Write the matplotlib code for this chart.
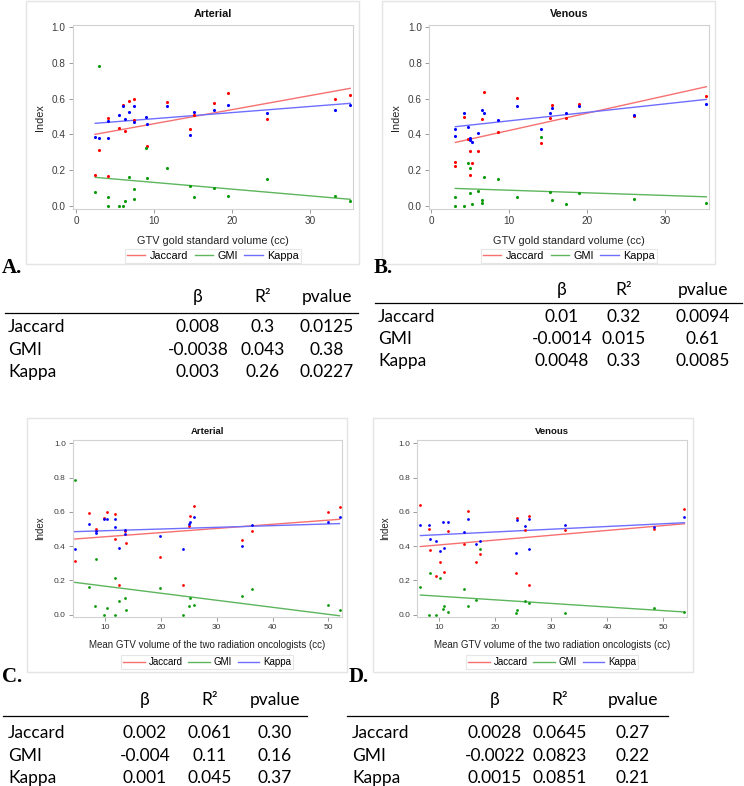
import matplotlib
matplotlib.use("Agg")
import matplotlib.pyplot as plt
from matplotlib.lines import Line2D
from matplotlib.patches import Rectangle

# ---------------- data ----------------
series_names = ["Jaccard", "GMI", "Kappa"]

# Panel A: Arterial vs GTV gold standard volume
a_jac_x = [2.43, 2.98, 4.13, 4.05, 5.46, 5.97, 6.27, 6.78, 7.37, 7.37, 9.08, 11.68, 14.58, 15.09, 17.69, 19.4, 24.47, 33.12, 35.08]
a_jac_y = [0.172, 0.312, 0.168, 0.493, 0.437, 0.563, 0.419, 0.589, 0.598, 0.482, 0.335, 0.583, 0.432, 0.510, 0.574, 0.634, 0.488, 0.596, 0.622]
a_gmi_x = [2.47, 2.94, 4.05, 4.13, 5.46, 5.97, 6.27, 6.78, 7.37, 7.37, 8.99, 9.08, 11.68, 14.58, 15.09, 17.69, 19.4, 24.47, 33.12, 35.08]
a_gmi_y = [0.075, 0.783, 0.049, 0.0, 0.0, 0.0, 0.024, 0.159, 0.092, 0.037, 0.323, 0.153, 0.213, 0.108, 0.049, 0.097, 0.054, 0.148, 0.052, 0.024]
a_kap_x = [2.47, 2.98, 4.05, 4.13, 5.46, 5.97, 6.27, 6.78, 7.37, 7.37, 8.99, 9.08, 11.68, 14.58, 15.09, 17.69, 19.4, 24.47, 33.12, 35.08]
a_kap_y = [0.387, 0.378, 0.477, 0.378, 0.507, 0.557, 0.488, 0.527, 0.557, 0.469, 0.497, 0.456, 0.557, 0.396, 0.525, 0.536, 0.566, 0.518, 0.536, 0.566]
a_fit_jac = [0.400, 0.658]
a_fit_gmi = [0.159, 0.036]
a_fit_kap = [0.462, 0.574]

# Panel B: Venous vs GTV gold standard volume
b_jac_x = [3.08, 3.08, 4.23, 4.70, 4.91, 4.91, 5.21, 5.98, 6.54, 6.79, 8.59, 10.98, 14.02, 15.17, 15.51, 17.22, 18.93, 25.94, 35.26]
b_jac_y = [0.243, 0.224, 0.499, 0.372, 0.308, 0.174, 0.239, 0.305, 0.484, 0.639, 0.413, 0.602, 0.353, 0.493, 0.564, 0.490, 0.572, 0.503, 0.613]
b_gmi_x = [3.08, 3.08, 4.23, 4.70, 4.91, 4.91, 5.21, 5.98, 6.54, 6.54, 6.79, 8.59, 10.98, 14.02, 15.17, 15.51, 17.22, 18.93, 25.94, 35.26]
b_gmi_y = [0.049, 0.0, 0.0, 0.239, 0.069, 0.213, 0.009, 0.084, 0.030, 0.015, 0.159, 0.150, 0.049, 0.383, 0.079, 0.030, 0.009, 0.069, 0.039, 0.015]
b_kap_x = [3.08, 3.08, 4.23, 4.70, 4.91, 5.00, 5.21, 5.98, 6.54, 6.79, 8.59, 10.98, 14.02, 15.17, 15.51, 17.22, 18.93, 25.94, 35.26]
b_kap_y = [0.428, 0.389, 0.518, 0.439, 0.378, 0.368, 0.357, 0.407, 0.538, 0.518, 0.479, 0.557, 0.428, 0.518, 0.548, 0.518, 0.557, 0.507, 0.568]
b_fit_jac = [0.355, 0.667]
b_fit_gmi = [0.097, 0.050]
b_fit_kap = [0.443, 0.596]

# Panel C: Arterial vs mean GTV volume of the two radiation oncologists
c_jac_x = [4.56, 7.19, 8.32, 9.77, 10.3, 11.85, 11.85, 12.51, 13.53, 13.7, 19.86, 24.04, 24.99, 25.29, 26.0, 34.6, 36.35, 50.02, 52.0]
c_jac_y = [0.315, 0.591, 0.498, 0.566, 0.601, 0.585, 0.441, 0.175, 0.490, 0.420, 0.334, 0.171, 0.515, 0.576, 0.634, 0.436, 0.490, 0.601, 0.626]
c_gmi_x = [4.56, 7.19, 8.27, 8.32, 9.82, 10.3, 11.85, 11.85, 12.51, 13.53, 13.7, 19.86, 24.04, 24.99, 25.29, 26.0, 34.6, 36.35, 50.02, 52.0]
c_gmi_y = [0.786, 0.158, 0.050, 0.325, 0.0, 0.038, 0.0, 0.215, 0.079, 0.094, 0.024, 0.153, 0.0, 0.050, 0.098, 0.054, 0.108, 0.149, 0.054, 0.024]
c_kap_x = [4.56, 7.19, 8.32, 8.32, 9.77, 10.3, 11.85, 11.85, 12.51, 13.6, 13.53, 19.86, 24.04, 24.99, 25.29, 26.0, 34.6, 36.35, 50.02, 52.0]
c_kap_y = [0.381, 0.531, 0.488, 0.478, 0.560, 0.560, 0.560, 0.509, 0.389, 0.494, 0.469, 0.461, 0.381, 0.529, 0.540, 0.572, 0.399, 0.521, 0.540, 0.570]
c_fit_jac = [0.441, 0.556]
c_fit_gmi = [0.188, -0.007]
c_fit_kap = [0.484, 0.531]

# Panel D: Venous vs mean GTV volume of the two radiation oncologists
d_jac_x = [6.75, 8.23, 8.52, 9.47, 10.3, 10.95, 11.6, 14.51, 15.16, 16.64, 17.29, 23.69, 23.99, 25.41, 26.06, 26.0, 32.4, 48.4, 53.74]
d_jac_y = [0.640, 0.500, 0.375, 0.225, 0.309, 0.247, 0.486, 0.414, 0.605, 0.305, 0.356, 0.241, 0.564, 0.494, 0.576, 0.175, 0.492, 0.502, 0.615]
d_gmi_x = [6.75, 8.23, 8.52, 9.47, 10.3, 10.83, 10.95, 11.6, 14.51, 15.16, 16.64, 17.29, 23.69, 23.99, 25.41, 26.06, 32.4, 48.4, 53.74]
d_gmi_y = [0.158, 0.0, 0.240, 0.0, 0.215, 0.030, 0.050, 0.015, 0.149, 0.050, 0.085, 0.384, 0.009, 0.028, 0.079, 0.069, 0.009, 0.038, 0.015]
d_kap_x = [6.75, 8.23, 8.52, 9.47, 10.3, 10.83, 10.95, 11.6, 14.51, 15.16, 16.64, 17.29, 23.69, 23.99, 25.41, 26.06, 26.0, 32.4, 48.4, 53.74]
d_kap_y = [0.521, 0.521, 0.439, 0.432, 0.369, 0.540, 0.390, 0.540, 0.480, 0.560, 0.410, 0.429, 0.360, 0.550, 0.519, 0.560, 0.381, 0.521, 0.509, 0.570]
d_fit_jac = [0.397, 0.530]
d_fit_gmi = [0.114, 0.015]
d_fit_kap = [0.461, 0.536]

# Regression tables
table_header = ["\u03b2", "R\u00b2", "pvalue"]
tab_a = [["0.008", "0.3", "0.0125"], ["-0.0038", "0.043", "0.38"], ["0.003", "0.26", "0.0227"]]
tab_b = [["0.01", "0.32", "0.0094"], ["-0.0014", "0.015", "0.61"], ["0.0048", "0.33", "0.0085"]]
tab_c = [["0.002", "0.061", "0.30"], ["-0.004", "0.11", "0.16"], ["0.001", "0.045", "0.37"]]
tab_d = [["0.0028", "0.0645", "0.27"], ["-0.0022", "0.0823", "0.22"], ["0.0015", "0.0851", "0.21"]]

# ---------------- styling ----------------
W, H = 744, 786
fig = plt.figure(figsize=(W / 100, H / 100), dpi=100)
plt.rcParams["font.family"] = ["Liberation Sans", "DejaVu Sans"]

pt_col = {"Jaccard": "#FF0000", "GMI": "#0A9A0A", "Kappa": "#0000FF"}
ln_col = {"Jaccard": "#F77070", "GMI": "#5DB55D", "Kappa": "#6E6EFF"}


def fr(x, y, w, h):
    return [x / W, 1 - (y + h) / H, w / W, h / H]


def panel_frame(x0, y0, x1, y1):
    fig.patches.append(Rectangle((x0 / W, 1 - y1 / H), (x1 - x0) / W, (y1 - y0) / H,
                                 transform=fig.transFigure, fill=False,
                                 edgecolor="#E4E4E4", linewidth=1.0, zorder=0))


def scatter_panel(rect, title, xlim, ylim, xticks, xlabel, data, fits, fs, leg_center, ms,
                  xlabelpad, ylabelpad):
    ax = fig.add_axes(fr(*rect))
    for name, (xs, ys), fit in zip(series_names, data, fits):
        ax.scatter(xs, ys, s=ms, color=pt_col[name], linewidths=0, zorder=3)
        ax.plot([min(xs), max(xs)], fit, color=ln_col[name], lw=1.0, zorder=2)
    ax.set_xlim(*xlim)
    ax.set_ylim(*ylim)
    ax.set_xticks(xticks)
    ax.set_yticks([0, 0.2, 0.4, 0.6, 0.8, 1.0])
    ax.set_yticklabels(["0.0", "0.2", "0.4", "0.6", "0.8", "1.0"])
    for sp in ax.spines.values():
        sp.set_color("#D2D2D2")
        sp.set_linewidth(0.8)
    ax.tick_params(length=3, width=0.7, color="#9A9A9A", labelsize=fs["tick"],
                   labelcolor="#3C3C3C", pad=2)
    ax.set_title(title, fontsize=fs["title"], fontweight="bold", color="#111111", pad=fs["tpad"])
    ax.set_xlabel(xlabel, fontsize=fs["label"], color="#222222", labelpad=xlabelpad)
    ax.set_ylabel("Index", fontsize=fs["label"], color="#222222", labelpad=ylabelpad)
    handles = [Line2D([], [], color=ln_col[n], lw=1.0) for n in series_names]
    leg = fig.legend(handles, series_names, loc="center",
                     bbox_to_anchor=(leg_center[0] / W, 1 - leg_center[1] / H),
                     ncol=3, frameon=True, fancybox=False, fontsize=fs["legend"],
                     handlelength=fs["hl"], handletextpad=0.4, columnspacing=0.6,
                     borderpad=0.2, borderaxespad=0)
    leg.get_frame().set_edgecolor("#E0E0E0")
    leg.get_frame().set_linewidth(0.8)
    return ax


fsAB = {"tick": 7.2, "title": 7.8, "label": 7.8, "legend": 7.8, "tpad": 6, "hl": 1.7}
fsCD = {"tick": 6.0, "title": 6.8, "label": 7.0, "legend": 7.0, "tpad": 4, "hl": 2.2}

panel_frame(26, 1, 359, 264)
panel_frame(382, 1, 715, 264)
panel_frame(27, 418, 347, 672)
panel_frame(373, 418, 693, 672)

scatter_panel((72.7, 25, 280, 184.3), "Arterial", (-0.42, 35.4), (-0.02, 1.013), [0, 10, 20, 30],
              "GTV gold standard volume (cc)",
              [(a_jac_x, a_jac_y), (a_gmi_x, a_gmi_y), (a_kap_x, a_kap_y)],
              [a_fit_jac, a_fit_gmi, a_fit_kap], fsAB, (213, 256), 5, 7, 5)
scatter_panel((429, 25, 280, 184.3), "Venous", (-0.3, 35.6), (-0.02, 1.013), [0, 10, 20, 30],
              "GTV gold standard volume (cc)",
              [(b_jac_x, b_jac_y), (b_gmi_x, b_gmi_y), (b_kap_x, b_kap_y)],
              [b_fit_jac, b_fit_gmi, b_fit_kap], fsAB, (569, 256), 5, 7, 5)
scatter_panel((72.7, 440, 269.6, 177.3), "Arterial", (4.2, 52.5), (-0.016, 1.019), [10, 20, 30, 40, 50],
              "Mean GTV volume of the two radiation oncologists (cc)",
              [(c_jac_x, c_jac_y), (c_gmi_x, c_gmi_y), (c_kap_x, c_kap_y)],
              [c_fit_jac, c_fit_gmi, c_fit_kap], fsCD, (207, 662), 4, 6, 6)
scatter_panel((417, 440, 270, 177.3), "Venous", (6.15, 54.2), (-0.016, 1.019), [10, 20, 30, 40, 50],
              "Mean GTV volume of the two radiation oncologists (cc)",
              [(d_jac_x, d_jac_y), (d_gmi_x, d_gmi_y), (d_kap_x, d_kap_y)],
              [d_fit_jac, d_fit_gmi, d_fit_kap], fsCD, (552, 662), 4, 6, 6)

# panel letters
for txt, x, y in [("A.", 2, 273), ("B.", 374, 273), ("C.", 2, 682), ("D.", 349, 682)]:
    fig.text(x / W, 1 - y / H, txt, fontsize=15, fontweight="bold",
             family=["Liberation Serif", "DejaVu Serif"], ha="left", va="baseline")

# tables
tfont = ["Lato", "DejaVu Sans"]
TFS = 12.5


def draw_table(rows, lab_x, col_x, line_x0, line_x1, y_head, y_line, y_rows):
    for h, cx in zip(table_header, col_x):
        fig.text(cx / W, 1 - y_head / H, h, ha="center", va="center", fontsize=TFS, family=tfont)
    fig.add_artist(Line2D([line_x0 / W, line_x1 / W], [1 - y_line / H, 1 - y_line / H],
                          color="black", lw=0.9, transform=fig.transFigure))
    for name, vals, yy in zip(series_names, rows, y_rows):
        fig.text(lab_x / W, 1 - yy / H, name, ha="left", va="center", fontsize=TFS, family=tfont)
        for v, cx in zip(vals, col_x):
            fig.text(cx / W, 1 - yy / H, v, ha="center", va="center", fontsize=TFS, family=tfont)


draw_table(tab_a, 8, [198, 263, 327], 5, 358, 297, 313, [327, 350, 372])
draw_table(tab_b, 378, [562, 624, 703], 375, 742, 290, 303, [317, 339, 361])
draw_table(tab_c, 8, [145, 210, 275], 3, 307, 700, 716, [733, 756, 778])
draw_table(tab_d, 352, [495, 560, 633], 347, 668, 700, 716, [733, 756, 778])

fig.savefig("out.png", dpi=100, facecolor="white")
